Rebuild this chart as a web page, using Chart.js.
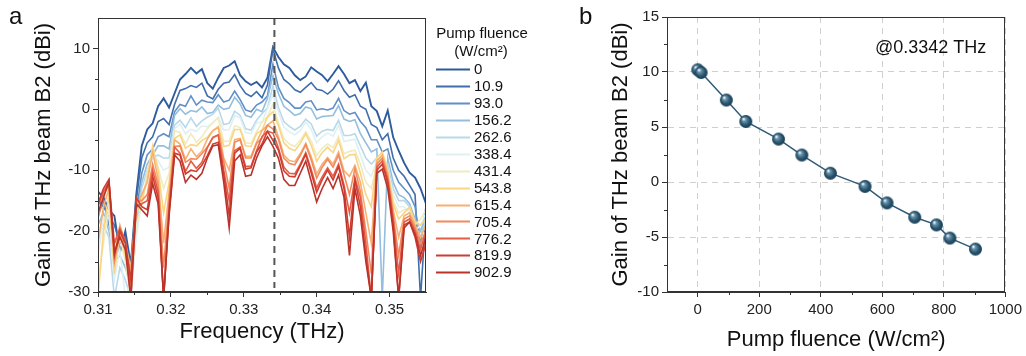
<!DOCTYPE html>
<html>
<head>
<meta charset="utf-8">
<script src="https://cdn.jsdelivr.net/npm/chart.js@4.4.1/dist/chart.umd.min.js"></script>
<style>
  html, body { margin: 0; padding: 0; background: #fff; }
  body { width: 1026px; height: 356px; position: relative; overflow: hidden;
         font-family: "Liberation Sans", Arial, sans-serif; }
  #chartA { position: absolute; left: 0; top: 0; }
  #chartB { position: absolute; left: 560px; top: 0; }
  .tag { position: absolute; font-size: 24px; line-height: 24px; color: #111; }
</style>
</head>
<body>
<canvas id="chartA" width="560" height="356"></canvas>
<canvas id="chartB" width="466" height="356"></canvas>
<div class="tag" style="left:9px;top:4px">a</div>
<div class="tag" style="left:579px;top:4px">b</div>
<script>
/* ========= DATA ========= */

// panel a: frequency axis (THz)
const freqTHz = [
  0.31, 0.31075, 0.3115, 0.31225, 0.313, 0.31375, 0.3145, 0.31525, 0.316, 0.31675,
  0.3175, 0.31825, 0.319, 0.31975, 0.3205, 0.32125, 0.322, 0.32275, 0.3235, 0.32425,
  0.325, 0.32575, 0.3265, 0.32725, 0.328, 0.32875, 0.3295, 0.33025, 0.331, 0.33175,
  0.3325, 0.33325, 0.334, 0.33475, 0.3355, 0.33625, 0.337, 0.33775, 0.3385, 0.33925,
  0.34, 0.34075, 0.3415, 0.34225, 0.343, 0.34375, 0.3445, 0.34525, 0.346, 0.34675,
  0.3475, 0.34825, 0.349, 0.34975, 0.3505, 0.35125, 0.352, 0.35275, 0.3535, 0.35425, 0.355
];

// gain spectra (dBi), one per pump fluence
const gainF0 = [
  -13.5, -14.5, -16.5, -17.5, -23.5, -20, -25.5, -14, -6, -3.3,
  -2.3, 0.5, 1.8, 0.3, 2.6, 4.9, 5.8, 6.8, 5.9, 6.6,
  4.3, 3.4, 5.2, 6.8, 7.2, 7.9, 5.6, 4.6, 4.0, 4.5,
  3.6, 5.2, 10.2, 8.6, 7.4, 6.8, 5.6, 4.8, 5.4, 6.9,
  6.2, 5.6, 4.6, 5.8, 7.1, 5.8, 4.3, 4.8, 3.0, 4.4,
  0.5, -0.3, -2.8, -0.2, -4.6, -6.8, -8.8, -10.4, -11.2, -13, -15.5
];
const gainF10_9 = [
  -14.8, -16, -17.5, -19, -22, -21, -27, -15, -8, -5.5,
  -4.5, -2, -1.5, -2.5, 0.8, 3.1, 3.4, 3.9, 3.6, 4.3,
  2.2, 1.7, 3.3, 4.3, 4.5, 5.7, 3.9, 2.6, 2.1, 2.9,
  1.9, 4.0, 9.9, 6.8, 4.9, 4.2, 3.2, 2.8, 3.6, 4.4,
  3.3, 3.1, 2.5, 3.3, 4.7, 3.1, 2.0, 2.4, 0.5, 0,
  -2.5, -3, -5, -4, -8, -10, -11, -12.5, -14, -31, -17
];
const gainF93_0 = [
  -17.5, -15, -19, -22, -20, -23.5, -31, -17, -10.5, -7.5,
  -6.5, -4.5, -4, -4.5, -0.4, 0.8, 0.5, 2.2, 0.7, 1.5,
  1.2, 1.1, 2.4, 1.2, 1.5, 3.0, 1.6, -0.1, -0.4, 0.7,
  1.2, 2.2, 7.4, 3.6, 1.8, 1.1, 0.2, 0.2, 1.2, 1.4,
  -0.1, 0.1, -0.1, 0.2, 1.8, -0.2, -0.8, -0.5, -2.0, -3,
  -5, -5, -7, -6.5, -10, -12, -13, -14, -16, -22, -16
];
const gainF156_2 = [
  -19, -17, -20, -25, -24, -26, -29, -19, -12, -9,
  -7.5, -6, -6, -6.5, -1.0, 0.1, -0.8, -0.2, -0.4, 0.4,
  -0.7, -0.5, 0.7, 0, 0.2, 2.0, 0.9, -1.0, -1.3, 0.0,
  -0.4, 1.8, 5.5, 2.6, 0.5, -0.2, -1.0, -0.7, 0.4, 0.1,
  -1.6, -1.2, -1.1, -1.0, 0.6, -1.6, -2.0, -1.7, -4.0, -5.5,
  -7, -6.5, -31, -8, -12, -14, -14.5, -15.5, -18, -20, -17.5
];
const gainF262_6 = [
  -21, -19, -21, -31, -26, -28, -31, -20, -13, -10,
  -8, -7.5, -8, -8, -2.6, -1.8, -3.0, -1.4, -2.8, -1.9,
  -1.3, -0.8, 0.2, -2.5, -2.3, -0.3, -1.0, -3.2, -3.4, -1.8,
  -0.7, 0.2, 3.9, 0.3, -2.0, -2.8, -3.4, -2.8, -1.6, -2.4,
  -4.4, -3.6, -3.3, -3.5, -1.8, -4.3, -4.3, -4.0, -6.0, -8,
  -9, -8, -8.5, -9, -13, -15, -15, -16, -19, -21, -18
];
const gainF338_4 = [
  -24, -18, -17, -28, -23, -31, -28, -21, -15, -11,
  -7.5, -8.5, -10, -9.5, -3.2, -2.4, -4.0, -3.3, -3.6, -2.7,
  -2.9, -2.2, -1.3, -3.4, -3.3, -1.0, -1.4, -3.8, -4.0, -2.2,
  -2.1, 0.1, 2.4, -0.4, -2.9, -3.7, -4.2, -3.5, -2.1, -3.3,
  -5.5, -4.5, -3.9, -4.4, -2.6, -5.3, -5.1, -4.9, -7.5, -10,
  -11, -8.5, -8, -10, -14, -16, -16, -17, -20, -19, -17
];
const gainF431_4 = [
  -28, -22, -16, -26, -21, -25, -31, -19, -16, -10.5,
  -6.5, -9.5, -13, -10.5, -3.5, -3.8, -5.7, -4.0, -5.4, -4.5,
  -3.2, -2.2, -1.4, -5.3, -5.2, -2.7, -3.0, -5.5, -5.6, -3.7,
  -2.1, -1.2, 0.8, -2.2, -4.8, -5.7, -6.1, -5.1, -3.7, -5.2,
  -7.6, -6.4, -5.7, -6.3, -4.5, -7.3, -6.9, -6.7, -9.0, -12,
  -13, -9, -7.5, -10.5, -15, -17, -16.5, -16.5, -19, -18, -16.5
];
const gainF543_8 = [
  -31, -20, -14, -27, -20, -24, -27, -17, -15, -11.5,
  -6, -10, -17, -12, -4.8, -4.2, -6.4, -5.8, -6.0, -5.1,
  -4.6, -3.5, -2.8, -6.1, -5.9, -3.3, -3.3, -6.0, -6.1, -4.0,
  -3.4, -1.3, -0.4, -2.7, -5.5, -6.4, -6.8, -5.6, -4.0, -5.9,
  -8.5, -7.1, -6.2, -7.1, -5.1, -8.1, -7.5, -7.4, -10.5, -14,
  -16, -8, -7, -10, -15.5, -18, -17, -16, -18.5, -19, -18
];
const gainF615_4 = [
  -22, -16, -13, -24, -19, -22, -26, -16, -14, -12,
  -7, -11.5, -22, -13.5, -5.0, -5.7, -8.2, -6.5, -7.8, -6.9,
  -4.9, -3.5, -3.0, -8.0, -10, -5.0, -4.8, -7.7, -7.7, -5.4,
  -3.5, -2.6, -1.9, -4.5, -7.5, -8.4, -8.6, -7.3, -5.6, -7.8,
  -10.6, -9.0, -7.9, -9.0, -7.0, -10.1, -11, -9.2, -12.0, -17,
  -22, -8.5, -7.5, -10.5, -16.5, -21, -17.5, -17, -19, -21, -19
];
const gainF705_4 = [
  -18, -14, -12.5, -25, -20.5, -23, -29, -15, -15, -14,
  -9, -12.5, -26, -15, -6.1, -6.0, -8.7, -8.1, -8.2, -7.3,
  -6.2, -4.7, -4.2, -8.5, -13, -5.4, -5.0, -8.0, -8.0, -5.6,
  -4.7, -2.6, -3.2, -4.9, -8.0, -8.9, -9.1, -7.6, -5.8, -8.3,
  -11.3, -9.5, -8.2, -9.5, -7.5, -10.7, -14, -9.7, -13.5, -20,
  -27, -9, -8, -11, -17.5, -24, -18, -17.5, -19.5, -22, -20
];
const gainF776_2 = [
  -16, -13.5, -12, -22, -19.5, -21.5, -31, -16, -15.5, -15,
  -10, -13.5, -31, -16, -6.2, -7.2, -10.2, -8.5, -9.7, -8.7,
  -6.3, -4.6, -4.2, -10.0, -15, -6.8, -6.2, -9.4, -9.3, -6.8,
  -4.5, -3.6, -3.9, -6.3, -9.5, -10.5, -10.6, -9.0, -7.1, -9.9,
  -12.9, -11.1, -9.6, -11.0, -9.0, -12.4, -17, -11.2, -14.5, -22,
  -31, -9.5, -8.5, -11.5, -18, -27, -18.5, -18, -20, -23, -20
];
const gainF819_9 = [
  -15.5, -13, -11.5, -24, -20, -22, -28, -14.5, -16, -16.5,
  -11, -14.5, -31, -17, -7.2, -7.5, -10.6, -10.0, -10.2, -9.2,
  -7.6, -5.7, -5.4, -10.6, -17.5, -7.2, -6.4, -9.8, -9.6, -7.0,
  -5.7, -3.6, -5.1, -6.7, -10.1, -11.0, -11.1, -9.3, -7.4, -10.4,
  -13.6, -11.6, -10.0, -11.6, -9.4, -13.0, -21, -11.6, -16, -24,
  -31, -10, -9, -12, -19, -31, -19, -18.5, -21, -25, -22
];
const gainF902_9 = [
  -17, -14.5, -11.8, -23.5, -21, -23, -31, -15.5, -16.5, -17.5,
  -12.2, -15.5, -31, -17.5, -7.5, -8.5, -12, -10.8, -11.5, -10.5,
  -8, -6, -5.8, -12, -19.5, -8.5, -7.5, -11, -10.8, -8,
  -6, -4.5, -6.1, -8, -11.5, -12.5, -12.5, -10.5, -8.5, -11.8,
  -15.2, -13, -11.2, -13, -10.8, -14.5, -24, -13, -17.5, -25,
  -31, -10.5, -9.8, -13, -20, -31, -19.5, -18.5, -20.5, -24, -21
];

const fluenceLabels = ["0", "10.9", "93.0", "156.2", "262.6", "338.4", "431.4",
                       "543.8", "615.4", "705.4", "776.2", "819.9", "902.9"];
const spectra = [gainF0, gainF10_9, gainF93_0, gainF156_2, gainF262_6, gainF338_4,
                 gainF431_4, gainF543_8, gainF615_4, gainF705_4, gainF776_2,
                 gainF819_9, gainF902_9];

const peakFreq = 0.3342;

// panel b: gain at the peak frequency vs pump fluence
const fluenceValues = [0, 10.9, 93.0, 156.2, 262.6, 338.4, 431.4, 543.8, 615.4, 705.4, 776.2, 819.9, 902.9];
const gainAtPeak = [10.2, 9.95, 7.45, 5.5, 3.9, 2.45, 0.8, -0.4, -1.9, -3.2, -3.9, -5.1, -6.1];

// ticks
const freqTicks = [0.31, 0.32, 0.33, 0.34, 0.35];
const freqMinor = [0.315, 0.325, 0.335, 0.345];
const gainTicksA = [-30, -20, -10, 0, 10];
const gainMinorA = [-25, -15, -5, 5];
const fluenceTicks = [0, 200, 400, 600, 800, 1000];
const fluenceMinor = [100, 300, 500, 700, 900];
const gainTicksB = [-10, -5, 0, 5, 10, 15];
const gainMinorB = [-7.5, -2.5, 2.5, 7.5, 12.5];

/* ========= STYLE ========= */

const lineColors = ["#2d5b9b", "#3f6eab", "#6190c6", "#93bedd", "#b9d9ea", "#dff0f3", "#f0ebc0",
                    "#fad582", "#f7b071", "#f28a5f", "#e65c44", "#d03c30", "#b9332b"];
const FONT = '"Liberation Sans", Arial, sans-serif';
Chart.defaults.font.family = FONT;
Chart.defaults.color = "#222";

function frameAndMinor(minorX, minorY) {
  return {
    id: "frameMinor",
    afterDraw(chart) {
      const { ctx, chartArea: a, scales: { x, y } } = chart;
      ctx.save();
      ctx.strokeStyle = "#333";
      ctx.lineWidth = 1;
      ctx.setLineDash([]);
      ctx.strokeRect(Math.round(a.left) + 0.5, Math.round(a.top) + 0.5,
                     Math.round(a.right - a.left) - 1, Math.round(a.bottom - a.top) - 1);
      ctx.beginPath();
      minorX.forEach(v => {
        const px = Math.round(x.getPixelForValue(v)) + 0.5;
        ctx.moveTo(px, a.bottom); ctx.lineTo(px, a.bottom + 3);
      });
      minorY.forEach(v => {
        const py = Math.round(y.getPixelForValue(v)) + 0.5;
        ctx.moveTo(a.left, py); ctx.lineTo(a.left - 3, py);
      });
      ctx.stroke();
      ctx.restore();
    }
  };
}

/* ========= PANEL A: SPECTRA ========= */

const peakLine = {
  id: "peakLine",
  afterDatasetsDraw(chart) {
    const { ctx, chartArea: a, scales: { x } } = chart;
    const px = x.getPixelForValue(peakFreq);
    ctx.save();
    ctx.strokeStyle = "#555";
    ctx.lineWidth = 2;
    ctx.setLineDash([7, 5]);
    ctx.beginPath();
    ctx.moveTo(px, a.top);
    ctx.lineTo(px, a.bottom - 4);
    ctx.stroke();
    ctx.restore();
  }
};

const sideLegend = {
  id: "sideLegend",
  afterDraw(chart) {
    const ctx = chart.ctx;
    ctx.save();
    ctx.fillStyle = "#111";
    ctx.font = "15px " + FONT;
    ctx.textBaseline = "middle";
    ctx.textAlign = "center";
    ctx.fillText("Pump fluence", 482, 34);
    ctx.fillText("(W/cm\u00B2)", 481, 52);
    ctx.textAlign = "left";
    chart.data.datasets.forEach((ds, i) => {
      const y = 69 + i * 16.94;
      ctx.strokeStyle = ds.borderColor;
      ctx.lineWidth = 2;
      ctx.beginPath();
      ctx.moveTo(436, Math.round(y) + 0.5);
      ctx.lineTo(470, Math.round(y) + 0.5);
      ctx.stroke();
      ctx.fillText(ds.label, 474, y + 1);
    });
    ctx.restore();
  }
};

new Chart(document.getElementById("chartA"), {
  type: "line",
  data: {
    datasets: spectra.map((s, k) => ({
      label: fluenceLabels[k],
      data: s.map((g, i) => ({ x: freqTHz[i], y: g })),
      borderColor: lineColors[k],
      borderWidth: k === 0 ? 1.9 : 1.6,
      pointRadius: 0,
      tension: 0,
      fill: false,
      order: spectra.length - 1 - k
    }))
  },
  options: {
    responsive: false,
    animation: false,
    events: [],
    layout: { padding: { left: 0, right: 134, top: 18, bottom: 0 } },
    plugins: { legend: { display: false }, tooltip: { enabled: false } },
    scales: {
      x: {
        type: "linear",
        min: 0.31,
        max: 0.355,
        afterBuildTicks: s => { s.ticks = freqTicks.map(v => ({ value: v })); },
        afterFit: s => { s.height = 64; },
        grid: { drawOnChartArea: false, tickLength: 5, tickColor: "#333" },
        border: { display: true, color: "#333" },
        ticks: { font: { size: 15 }, padding: 4, maxRotation: 0, autoSkip: false,
                 callback: v => v.toFixed(2) },
        title: { display: true, text: "Frequency (THz)", color: "#111",
                 font: { size: 22 }, padding: { top: 0, bottom: 11 } }
      },
      y: {
        min: -30,
        max: 15,
        afterBuildTicks: s => { s.ticks = gainTicksA.map(v => ({ value: v })); },
        afterFit: s => { s.width = 98; },
        grid: { drawOnChartArea: false, tickLength: 5, tickColor: "#333" },
        border: { display: true, color: "#333" },
        ticks: { font: { size: 15 }, padding: 3 },
        title: { display: true, text: "Gain of THz beam B2 (dBi)", color: "#111",
                 font: { size: 22 }, padding: { top: 31, bottom: 0 } }
      }
    }
  },
  plugins: [peakLine, frameAndMinor(freqMinor, gainMinorA), sideLegend]
});

/* ========= PANEL B: GAIN VS FLUENCE ========= */

function ballImage(r) {
  const c = document.createElement("canvas");
  const s = r * 2 + 2;
  c.width = s; c.height = s;
  const g = c.getContext("2d");
  const cx = s / 2, cy = s / 2;
  const grad = g.createRadialGradient(cx - r * 0.35, cy - r * 0.4, r * 0.08, cx, cy, r);
  grad.addColorStop(0, "#eef4f7");
  grad.addColorStop(0.22, "#6d95ad");
  grad.addColorStop(0.65, "#2a566f");
  grad.addColorStop(1, "#173d53");
  g.fillStyle = grad;
  g.beginPath();
  g.arc(cx, cy, r, 0, Math.PI * 2);
  g.fill();
  return c;
}

const peakNote = {
  id: "peakNote",
  afterDraw(chart) {
    const ctx = chart.ctx;
    ctx.save();
    ctx.fillStyle = "#111";
    ctx.font = "18px " + FONT;
    ctx.textBaseline = "middle";
    ctx.textAlign = "left";
    ctx.fillText("@" + peakFreq + " THz", 315, 48);
    ctx.restore();
  }
};

new Chart(document.getElementById("chartB"), {
  type: "line",
  data: {
    datasets: [{
      label: "gain",
      data: fluenceValues.map((f, i) => ({ x: f, y: gainAtPeak[i] })),
      borderColor: "#2f5b78",
      borderWidth: 1.5,
      pointStyle: ballImage(6.5),
      pointRadius: 6.5,
      tension: 0,
      fill: false
    }]
  },
  options: {
    responsive: false,
    animation: false,
    events: [],
    layout: { padding: { left: 0, right: 20, top: 17, bottom: 0 } },
    plugins: { legend: { display: false }, tooltip: { enabled: false } },
    scales: {
      x: {
        type: "linear",
        min: -100,
        max: 1000,
        afterBuildTicks: s => { s.ticks = fluenceTicks.map(v => ({ value: v })); },
        afterFit: s => { s.height = 64; },
        grid: { color: "#cfcfcf", tickLength: 5, tickColor: "#333" },
        border: { display: true, color: "#333", dash: [6, 5] },
        ticks: { font: { size: 15 }, padding: 4, maxRotation: 0, autoSkip: false,
                 callback: v => String(v) },
        title: { display: true, text: "Pump fluence (W/cm\u00B2)", color: "#111",
                 font: { size: 22 }, padding: { top: 0, bottom: 3 } }
      },
      y: {
        min: -10,
        max: 15,
        afterBuildTicks: s => { s.ticks = gainTicksB.map(v => ({ value: v })); },
        afterFit: s => { s.width = 107; },
        grid: { color: "#cfcfcf", tickLength: 5, tickColor: "#333" },
        border: { display: true, color: "#333", dash: [6, 5] },
        ticks: { font: { size: 15 }, padding: 3 },
        title: { display: true, text: "Gain of THz beam B2 (dBi)", color: "#111",
                 font: { size: 22 }, padding: { top: 48, bottom: 0 } }
      }
    }
  },
  plugins: [frameAndMinor(fluenceMinor, gainMinorB), peakNote]
});
</script>
</body>
</html>
